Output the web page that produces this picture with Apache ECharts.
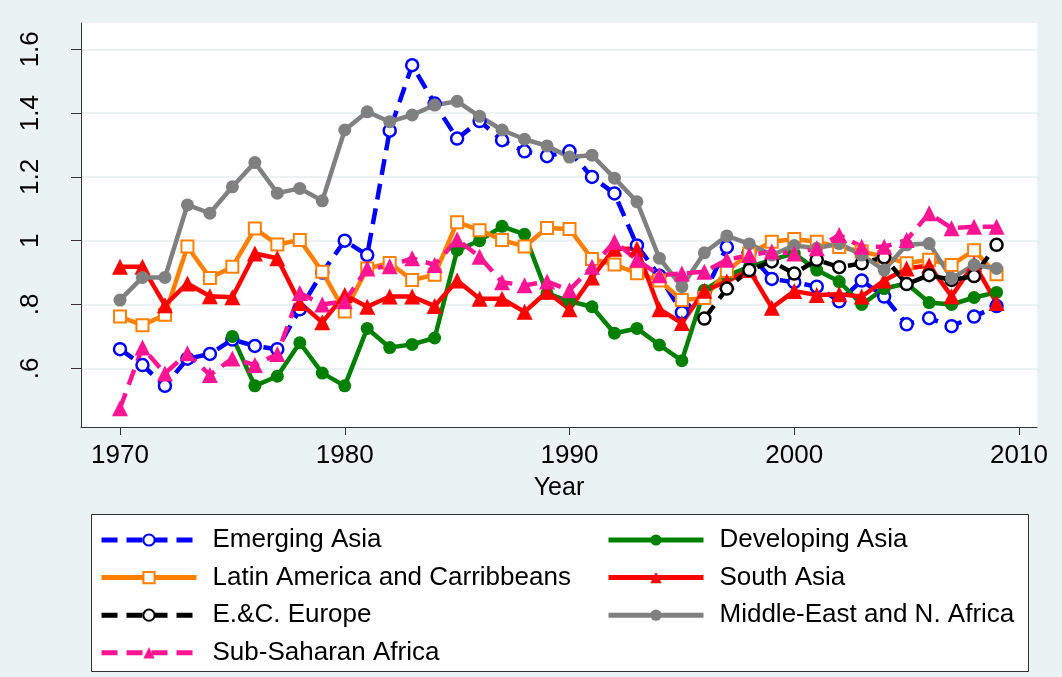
<!DOCTYPE html>
<html>
<head>
<meta charset="utf-8">
<script src="https://cdn.jsdelivr.net/npm/echarts@6/dist/echarts.min.js"></script>
<style>
html,body{margin:0;padding:0;background:#eaf2f3;}
#c{width:1062px;height:677px;}
</style>
</head>
<body>
<div id="c"></div>
<script>
const years = [1970,1971,1972,1973,1974,1975,1976,1977,1978,1979,1980,1981,1982,1983,1984,1985,1986,1987,1988,1989,
  1990,1991,1992,1993,1994,1995,1996,1997,1998,1999,2000,2001,2002,2003,2004,2005,2006,2007,2008,2009];

const emergingAsia = [0.66,0.61,0.545,0.63,0.645,0.69,0.67,0.66,0.785,0.90,1.00,0.955,1.345,1.55,1.43,1.32,1.375,1.315,1.28,1.265,
  1.28,1.20,1.148,0.985,0.89,0.775,0.835,0.98,0.96,0.88,0.87,0.856,0.81,0.875,0.825,0.738,0.757,0.732,0.762,0.795];
const developingAsia = [null,null,null,null,null,0.70,0.545,0.575,0.68,0.585,0.545,0.725,0.665,0.675,0.695,0.97,1.00,1.045,1.02,0.835,
  0.81,0.793,0.71,0.725,0.673,0.624,0.845,0.89,0.918,0.94,0.96,0.908,0.872,0.80,0.85,0.866,0.806,0.80,0.822,0.838];
const latinAmerica = [0.762,0.735,0.768,0.982,0.883,0.918,1.038,0.988,1.002,0.903,0.778,0.913,0.93,0.877,0.893,1.058,1.033,1.002,0.982,1.04,
  1.037,0.943,0.925,0.898,0.875,0.814,0.82,0.905,0.96,0.997,1.005,0.997,0.98,0.966,0.95,0.929,0.94,0.924,0.97,0.895];
const southAsia = [0.918,0.918,0.798,0.866,0.826,0.823,0.96,0.945,0.805,0.744,0.83,0.793,0.825,0.825,0.795,0.875,0.818,0.818,0.777,0.84,
  0.785,0.885,0.975,0.975,0.785,0.742,0.843,0.872,0.908,0.79,0.842,0.83,0.832,0.825,0.875,0.913,0.922,0.826,0.928,0.805];
const ecEurope = [null,null,null,null,null,null,null,null,null,null,null,null,null,null,null,null,null,null,null,null,
  null,null,null,null,null,null,0.756,0.85,0.908,0.935,0.897,0.94,0.917,0.929,0.948,0.864,0.892,0.877,0.889,0.987];
const middleEast = [0.814,0.885,0.885,1.112,1.086,1.169,1.245,1.149,1.164,1.125,1.347,1.404,1.373,1.394,1.425,1.437,1.39,1.347,1.318,1.297,
  1.262,1.268,1.196,1.122,0.945,0.856,0.962,1.015,0.99,0.955,0.985,0.976,0.991,0.955,0.908,0.987,0.991,0.882,0.924,0.913];
const subSaharan = [0.475,0.665,0.584,0.647,0.579,0.631,0.61,0.645,0.836,0.80,0.81,0.913,0.92,0.945,0.924,1.004,0.95,0.87,0.86,0.872,
  0.845,0.918,0.997,0.94,0.892,0.897,0.903,0.94,0.955,0.966,0.96,0.976,1.018,0.981,0.981,1.002,1.086,1.039,1.044,1.044];

const xTickValues = [1970,1980,1990,2000,2010];
const xTickLabels = ['1970','1980','1990','2000','2010'];
const yTickValues = [0.6,0.8,1.0,1.2,1.4,1.6];
const yTickLabels = ['.6','.8','1','1.2','1.4','1.6'];

const names = ['Emerging Asia','Developing Asia','Latin America and Carribbeans','South Asia','E.&C. Europe','Middle-East and N. Africa','Sub-Saharan Africa'];

function pairs(vals){ return years.map((y,i)=>[y, vals[i]]); }

const FONT = "'Liberation Sans', Arial, sans-serif";
const chart = echarts.init(document.getElementById('c'), null, {renderer:'canvas'});

function mk(name, vals, color, opts){
  return Object.assign({
    name: name, type:'line', xAxisIndex:0, yAxisIndex:0,
    data: pairs(vals), connectNulls:false, animation:false,
    lineStyle:{color:color, width:4.5},
    emphasis:{disabled:true}
  }, opts);
}

const series = [
  mk(names[0], emergingAsia, '#0000ff', {symbol:'circle', symbolSize:12,
     itemStyle:{color:'#ffffff', borderColor:'#0000ff', borderWidth:2.5},
     lineStyle:{color:'#0000ff', width:4.5, type:[16,9]}}),
  mk(names[1], developingAsia, '#008000', {symbol:'circle', symbolSize:13,
     itemStyle:{color:'#008000', borderWidth:0}}),
  mk(names[2], latinAmerica, '#ff8000', {symbol:'rect', symbolSize:12,
     itemStyle:{color:'#ffffff', borderColor:'#ff8000', borderWidth:2}}),
  mk(names[3], southAsia, '#ff0000', {symbol:'triangle', symbolSize:16,
     itemStyle:{color:'#ff0000', borderWidth:0}}),
  mk(names[4], ecEurope, '#000000', {symbol:'circle', symbolSize:12,
     itemStyle:{color:'#ffffff', borderColor:'#000000', borderWidth:2.5},
     lineStyle:{color:'#000000', width:4.5, type:[16,9]}}),
  mk(names[5], middleEast, '#808080', {symbol:'circle', symbolSize:13,
     itemStyle:{color:'#808080', borderWidth:0}}),
  mk(names[6], subSaharan, '#ff1493', {symbol:'triangle', symbolSize:16,
     itemStyle:{color:'#ff1493', borderWidth:0},
     lineStyle:{color:'#ff1493', width:4.5, type:[16,9]}})
];

const legendCommon = {
  orient:'vertical', itemWidth:95, itemHeight:14, itemGap:9.6,
  selectedMode:false,
  lineStyle:{width:5},
  textStyle:{fontFamily:FONT, fontSize:26, color:'#000', lineHeight:28, padding:[0,0,0,11]}
};

const option = {
  backgroundColor:'#eaf2f3',
  animation:false,
  textStyle:{fontFamily:FONT},
  graphic:[{
    type:'rect', left:91, top:514, z:0,
    shape:{width:937, height:157},
    style:{fill:'#ffffff', stroke:'#333333', lineWidth:1}
  }],
  grid:[
    {left:81, right:25, top:23, bottom:250, show:true, backgroundColor:'#ffffff', borderWidth:0, z:-1},
    {left:81, right:25, top:49.3, bottom:308.7, show:false},
    {left:120, right:43, top:23, bottom:250, show:false}
  ],
  xAxis:[
    {type:'value', gridIndex:0, min:1968.265, max:2010.80,
     axisLine:{show:true, lineStyle:{color:'#333333', width:1}},
     axisTick:{show:false}, axisLabel:{show:false}, splitLine:{show:false},
     name:'Year', nameLocation:'middle', nameGap:49,
     nameTextStyle:{fontFamily:FONT, fontSize:25, color:'#000'}},
    {type:'value', gridIndex:1, min:0, max:1, show:false},
    {type:'value', gridIndex:2, min:xTickValues[0], max:xTickValues[xTickValues.length-1], interval:10,
     axisLine:{show:false},
     axisTick:{show:true, length:8, lineStyle:{color:'#333333', width:1}},
     axisLabel:{show:true, margin:16, fontFamily:FONT, fontSize:26, color:'#000',
       formatter:function(v){ const i = xTickValues.indexOf(Math.round(v)); return i>=0 ? xTickLabels[i] : ''; }},
     splitLine:{show:false}}
  ],
  yAxis:[
    {type:'value', gridIndex:0, min:0.416, max:1.6824,
     axisLine:{show:true, lineStyle:{color:'#333333', width:1}},
     axisTick:{show:false}, axisLabel:{show:false}, splitLine:{show:false}},
    {type:'value', gridIndex:1, min:yTickValues[0], max:yTickValues[yTickValues.length-1], interval:0.2,
     axisLine:{show:false},
     axisTick:{show:true, length:10, lineStyle:{color:'#333333', width:1}},
     axisLabel:{show:true, rotate:90, margin:37, fontFamily:FONT, fontSize:26, color:'#000',
       formatter:function(v){ const i = Math.round((v - yTickValues[0]) / 0.2); return yTickLabels[i] !== undefined ? yTickLabels[i] : ''; }},
     splitLine:{show:true, lineStyle:{color:'#eaf2f3', width:2}}},
    {type:'value', gridIndex:2, min:0, max:1, show:false}
  ],
  legend:[
    Object.assign({}, legendCommon, {left:94, top:521, data:[names[0], names[2], names[4], names[6]]}),
    Object.assign({}, legendCommon, {left:601, top:521, data:[names[1], names[3], names[5]]})
  ],
  series: series
};
chart.setOption(option);
</script>
</body>
</html>
